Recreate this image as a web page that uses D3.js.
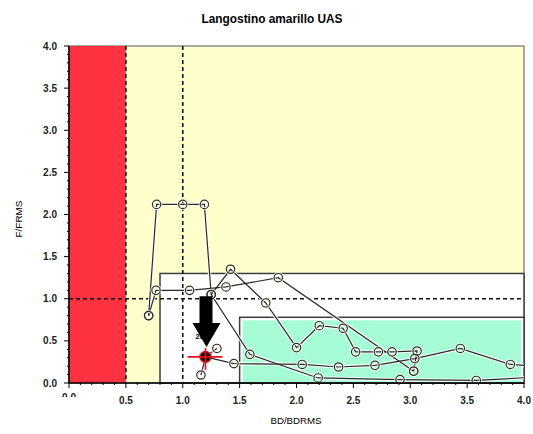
<!DOCTYPE html>
<html>
<head>
<meta charset="utf-8">
<script src="https://cdn.jsdelivr.net/npm/d3@7"></script>
<style>
  body { margin: 0; background: #fff; }
  text { font-family: "Liberation Sans", Arial, sans-serif; }
</style>
</head>
<body>
<svg id="chart" width="533" height="434"></svg>
<script>
// trajectories (BD/BDRMS, F/FRMS)
var seriesA = [[0.70, 0.80], [0.77, 2.12], [1.00, 2.12], [1.19, 2.12], [1.25, 1.05], [1.59, 0.34], [2.19, 0.06], [2.91, 0.04], [3.58, 0.03], [4.10, 0.07]];
var seriesB = [[0.70, 0.80], [0.765, 1.10], [1.06, 1.10], [1.38, 1.14], [1.84, 1.25], [3.03, 0.14]];
var seriesC = [[1.25, 1.05], [1.42, 1.35], [1.73, 0.95], [2.00, 0.42], [2.20, 0.68], [2.41, 0.65], [2.52, 0.37], [2.72, 0.37], [2.84, 0.37], [3.06, 0.38], [3.03, 0.14]];
var seriesD = [[4.10, 0.20], [3.88, 0.22], [3.44, 0.41], [3.04, 0.29], [2.69, 0.21], [2.37, 0.19], [2.05, 0.22], [1.45, 0.23], [1.20, 0.31]];
var seriesE = [[1.30, 0.41], [1.20, 0.31], [1.16, 0.095]];
var current = [1.20, 0.31];

// zones
var redLimit = 0.5;
var whiteBox = {x0: 0.80, y1: 1.30};
var greenBox = {x0: 1.50, y1: 0.78};
var refLine = 1.0;

var xTicks = [0, 0.5, 1, 1.5, 2, 2.5, 3, 3.5, 4];
var yTicks = [0, 0.5, 1, 1.5, 2, 2.5, 3, 3.5, 4];

var svg = d3.select('#chart');
var x = d3.scaleLinear().domain([0, 4]).range([69, 524]);
var y = d3.scaleLinear().domain([0, 4]).range([383, 46]);

svg.append('defs').append('clipPath').attr('id', 'plotclip')
  .append('rect')
    .attr('x', x(0)).attr('y', y(4))
    .attr('width', x(4) - x(0)).attr('height', y(0) - y(4));

// backgrounds
svg.append('rect')
  .attr('x', x(0)).attr('y', y(4))
  .attr('width', x(4) - x(0)).attr('height', y(0) - y(4))
  .attr('fill', '#ffffcc')
  .attr('stroke', '#8a8a8a').attr('stroke-width', 1.5);

svg.append('rect')
  .attr('x', x(0)).attr('y', y(4))
  .attr('width', x(redLimit) - x(0)).attr('height', y(0) - y(4))
  .attr('fill', '#ff3241');

svg.append('rect')
  .attr('x', x(whiteBox.x0)).attr('y', y(whiteBox.y1))
  .attr('width', x(4) - x(whiteBox.x0)).attr('height', y(0) - y(whiteBox.y1))
  .attr('fill', '#fff')
  .attr('stroke', '#3c3c3c').attr('stroke-width', 1.5);

svg.append('rect')
  .attr('x', x(greenBox.x0)).attr('y', y(greenBox.y1))
  .attr('width', x(4) - x(greenBox.x0)).attr('height', y(0) - y(greenBox.y1))
  .attr('fill', '#fff')
  .attr('stroke', '#3c3c3c').attr('stroke-width', 1.5);

svg.append('rect')
  .attr('x', x(greenBox.x0) + 3).attr('y', y(greenBox.y1) + 3)
  .attr('width', x(4) - x(greenBox.x0) - 6).attr('height', y(0) - y(greenBox.y1) - 4)
  .attr('fill', '#a6fcd4');

// reference lines
var dashes = svg.append('g')
    .attr('stroke', '#111')
    .attr('stroke-width', 1.6)
    .attr('stroke-dasharray', '4,3');
dashes.append('line')
  .attr('x1', x(redLimit)).attr('x2', x(redLimit))
  .attr('y1', y(4)).attr('y2', y(0));
dashes.append('line')
  .attr('x1', x(refLine)).attr('x2', x(refLine))
  .attr('y1', y(4)).attr('y2', y(0));
dashes.append('line')
  .attr('x1', x(0)).attr('x2', x(4))
  .attr('y1', y(refLine)).attr('y2', y(refLine));

// trajectories
var plot = svg.append('g').attr('clip-path', 'url(#plotclip)');
var line = d3.line()
    .x(function(d) { return x(d[0]); })
    .y(function(d) { return y(d[1]); });
var allSeries = [seriesA, seriesB, seriesC, seriesD, seriesE];

plot.selectAll('path.halo')
  .data(allSeries)
  .enter().append('path')
    .attr('class', 'halo')
    .attr('d', line)
    .attr('fill', 'none')
    .attr('stroke', '#fff')
    .attr('stroke-opacity', 0.8)
    .attr('stroke-width', 3.5);

plot.selectAll('path.traj')
  .data(allSeries)
  .enter().append('path')
    .attr('class', 'traj')
    .attr('d', line)
    .attr('fill', 'none')
    .attr('stroke', '#2a2a2a')
    .attr('stroke-width', 1.2);

var pts = [];
allSeries.forEach(function(s) {
  s.forEach(function(p) { pts.push(p); });
});

plot.selectAll('circle.halo')
  .data(pts)
  .enter().append('circle')
    .attr('class', 'halo')
    .attr('cx', function(d) { return x(d[0]); })
    .attr('cy', function(d) { return y(d[1]); })
    .attr('r', 4.2)
    .attr('fill', 'none')
    .attr('stroke', '#fff')
    .attr('stroke-opacity', 0.8)
    .attr('stroke-width', 3);

plot.selectAll('circle.pt')
  .data(pts)
  .enter().append('circle')
    .attr('class', 'pt')
    .attr('cx', function(d) { return x(d[0]); })
    .attr('cy', function(d) { return y(d[1]); })
    .attr('r', 4.2)
    .attr('fill', 'none')
    .attr('stroke', '#33331f')
    .attr('stroke-width', 1.2);

// current status marker
var cx = x(current[0]), cy = y(current[1]);
svg.append('circle')
  .attr('cx', cx).attr('cy', cy).attr('r', 5.5)
  .attr('fill', '#111').attr('stroke', '#e01020').attr('stroke-width', 1.5);
svg.append('line')
  .attr('x1', cx - 18).attr('x2', cx + 17).attr('y1', cy).attr('y2', cy)
  .attr('stroke', '#e01020').attr('stroke-width', 1.6);
svg.append('line')
  .attr('x1', cx).attr('x2', cx).attr('y1', cy - 9).attr('y2', cy + 13)
  .attr('stroke', '#e01020').attr('stroke-width', 1.6);

svg.append('text')
  .attr('x', cx - 10).attr('y', cy - 18)
  .attr('font-size', 7).attr('font-weight', 'bold')
  .text('2017');

// arrow pointing to current status
svg.append('path')
  .attr('d', d3.line()([
    [cx - 6, y(1.03)], [cx + 7, y(1.03)], [cx + 7, cy - 34],
    [cx + 15, cy - 34], [cx + 1, cy - 10], [cx - 13, cy - 34],
    [cx - 6, cy - 34]
  ]) + 'Z')
  .attr('fill', '#000');

// axes
var yAxis = svg.append('g');
yAxis.append('line')
  .attr('x1', x(0)).attr('x2', x(0)).attr('y1', y(4)).attr('y2', y(0))
  .attr('stroke', '#000').attr('stroke-width', 1.5);
yAxis.selectAll('line.minor')
  .data(d3.range(0, 41).map(function(i) { return i / 10; }))
  .enter().append('line')
    .attr('x1', function(d, i) { return i % 5 === 0 ? x(0) - 5 : x(0) - 2; })
    .attr('x2', x(0))
    .attr('y1', function(d) { return y(d); })
    .attr('y2', function(d) { return y(d); })
    .attr('stroke', '#000').attr('stroke-width', 1);
yAxis.selectAll('text')
  .data(yTicks)
  .enter().append('text')
    .attr('x', x(0) - 12)
    .attr('y', function(d) { return y(d) + 3.5; })
    .attr('text-anchor', 'end')
    .attr('font-size', 10).attr('font-weight', 'bold')
    .attr('fill', '#222')
    .text(function(d) { return d3.format('.1f')(d); });

var xAxis = svg.append('g');
xAxis.append('line')
  .attr('x1', x(0)).attr('x2', x(4)).attr('y1', y(0)).attr('y2', y(0))
  .attr('stroke', '#000').attr('stroke-width', 1.5);
xAxis.selectAll('line.minor')
  .data(d3.range(0, 41).map(function(i) { return i / 10; }))
  .enter().append('line')
    .attr('x1', function(d) { return x(d); })
    .attr('x2', function(d) { return x(d); })
    .attr('y1', y(0))
    .attr('y2', function(d, i) { return i % 5 === 0 ? y(0) + 5 : y(0) + 2; })
    .attr('stroke', '#000').attr('stroke-width', 1);

svg.append('defs').append('clipPath').attr('id', 'zeroclip')
  .append('rect').attr('x', 50).attr('y', 390).attr('width', 40).attr('height', 7);

xAxis.selectAll('text')
  .data(xTicks)
  .enter().append('text')
    .attr('x', function(d) { return x(d); })
    .attr('y', function(d) { return d === 0 ? 401 : 404; })
    .attr('clip-path', function(d) { return d === 0 ? 'url(#zeroclip)' : null; })
    .attr('text-anchor', 'middle')
    .attr('font-size', 10).attr('font-weight', 'bold')
    .attr('fill', '#222')
    .text(function(d) { return d3.format('.1f')(d); });

// titles
svg.append('text')
  .attr('x', 272).attr('y', 23)
  .attr('text-anchor', 'middle')
  .attr('font-size', 12).attr('font-weight', 'bold')
  .attr('textLength', 141).attr('lengthAdjust', 'spacingAndGlyphs')
  .text('Langostino amarillo UAS');

svg.append('text')
  .attr('x', 296).attr('y', 424)
  .attr('text-anchor', 'middle')
  .attr('font-size', 8.5)
  .attr('textLength', 51).attr('lengthAdjust', 'spacingAndGlyphs')
  .text('BD/BDRMS');

svg.append('text')
  .attr('transform', 'translate(22,219) rotate(-90)')
  .attr('text-anchor', 'middle')
  .attr('font-size', 8.5)
  .attr('textLength', 37).attr('lengthAdjust', 'spacingAndGlyphs')
  .text('F/FRMS');
</script>
</body>
</html>
